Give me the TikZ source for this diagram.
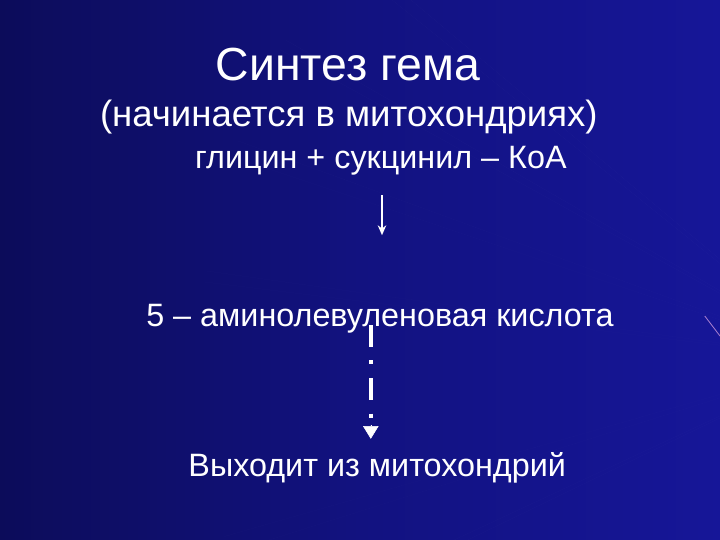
\documentclass[tikz,border=0pt]{standalone}
\usepackage{fontspec}
\setmainfont{Liberation Sans}
\usetikzlibrary{arrows.meta, positioning}
\definecolor{bgdark}{RGB}{12,12,90}
\definecolor{bgmid}{RGB}{18,18,128}
\definecolor{bglight}{RGB}{22,22,152}
\definecolor{raypink}{RGB}{200,150,220}

\begin{document}
\begin{tikzpicture}
    \tikzstyle{slide text}=[text=white, inner sep=0pt, anchor=base]
    \tikzstyle{heading}=[slide text, font=\fontsize{33}{38}\selectfont]
    \tikzstyle{subheading}=[slide text, font=\fontsize{26}{30}\selectfont]
    \tikzstyle{item}=[slide text, font=\fontsize{23}{27}\selectfont]
    \tikzstyle{thin arrow}=[draw=white, line width=1.6pt, -{Stealth[length=7pt, width=6pt]}]
    \tikzstyle{dotdash line}=[draw=white, line width=2.8pt,
        dash pattern=on 0.55cm off 0.33cm on 0.1cm off 0.35cm]
    \tikzstyle{dotdash tip}=[draw=white, fill=white, line width=0.4pt, -{Triangle[length=9pt, width=11pt]}]
    \tikzstyle{ray}=[fill=white, opacity=0.05]

    % background
    \useasboundingbox (0,0) rectangle (18,-13.5);
    \shade[left color=bgdark, right color=bglight, middle color=bgmid] (0,0) rectangle (18,-13.5);
    \foreach \a/\b in {160/161.5, 150/151, 140/141.2, 172/173, 196/197.5, 205/205.8}{
        \fill[ray] (21,-9) -- ++(\a:16) -- ++(\b:0.01) -- (21,-9) -- ++(\b:16) -- cycle;
    }
    \draw[raypink, line width=0.6pt, opacity=0.8] (17.62,-7.9) -- (18,-8.4);

    % texts
    \node[heading] (title) at (8.7,-2.0) {Синтез гема};
    \node[subheading] (place) at (8.72,-3.15) {(начинается в митохондриях)};
    \node[item] (substr) at (9.52,-4.2) {глицин + сукцинил – КоА};
    \node[item] (ala) at (9.5,-8.15) {5 – аминолевуленовая кислота};
    \node[item] (exit) at (9.43,-11.9) {Выходит из митохондрий};

    % arrows
    \coordinate (a1s) at (9.55,-4.88);
    \coordinate (a1e) at (9.55,-5.88);
    \coordinate (a2s) at (9.27,-8.13);
    \coordinate (a2m) at (9.27,-10.62);
    \coordinate (a2e) at (9.27,-10.97);
    \draw[thin arrow] (a1s) -- (a1e);
    \draw[dotdash line] (a2s) -- (a2m);
    \draw[dotdash tip] (a2m) -- (a2e);
\end{tikzpicture}
\end{document}
